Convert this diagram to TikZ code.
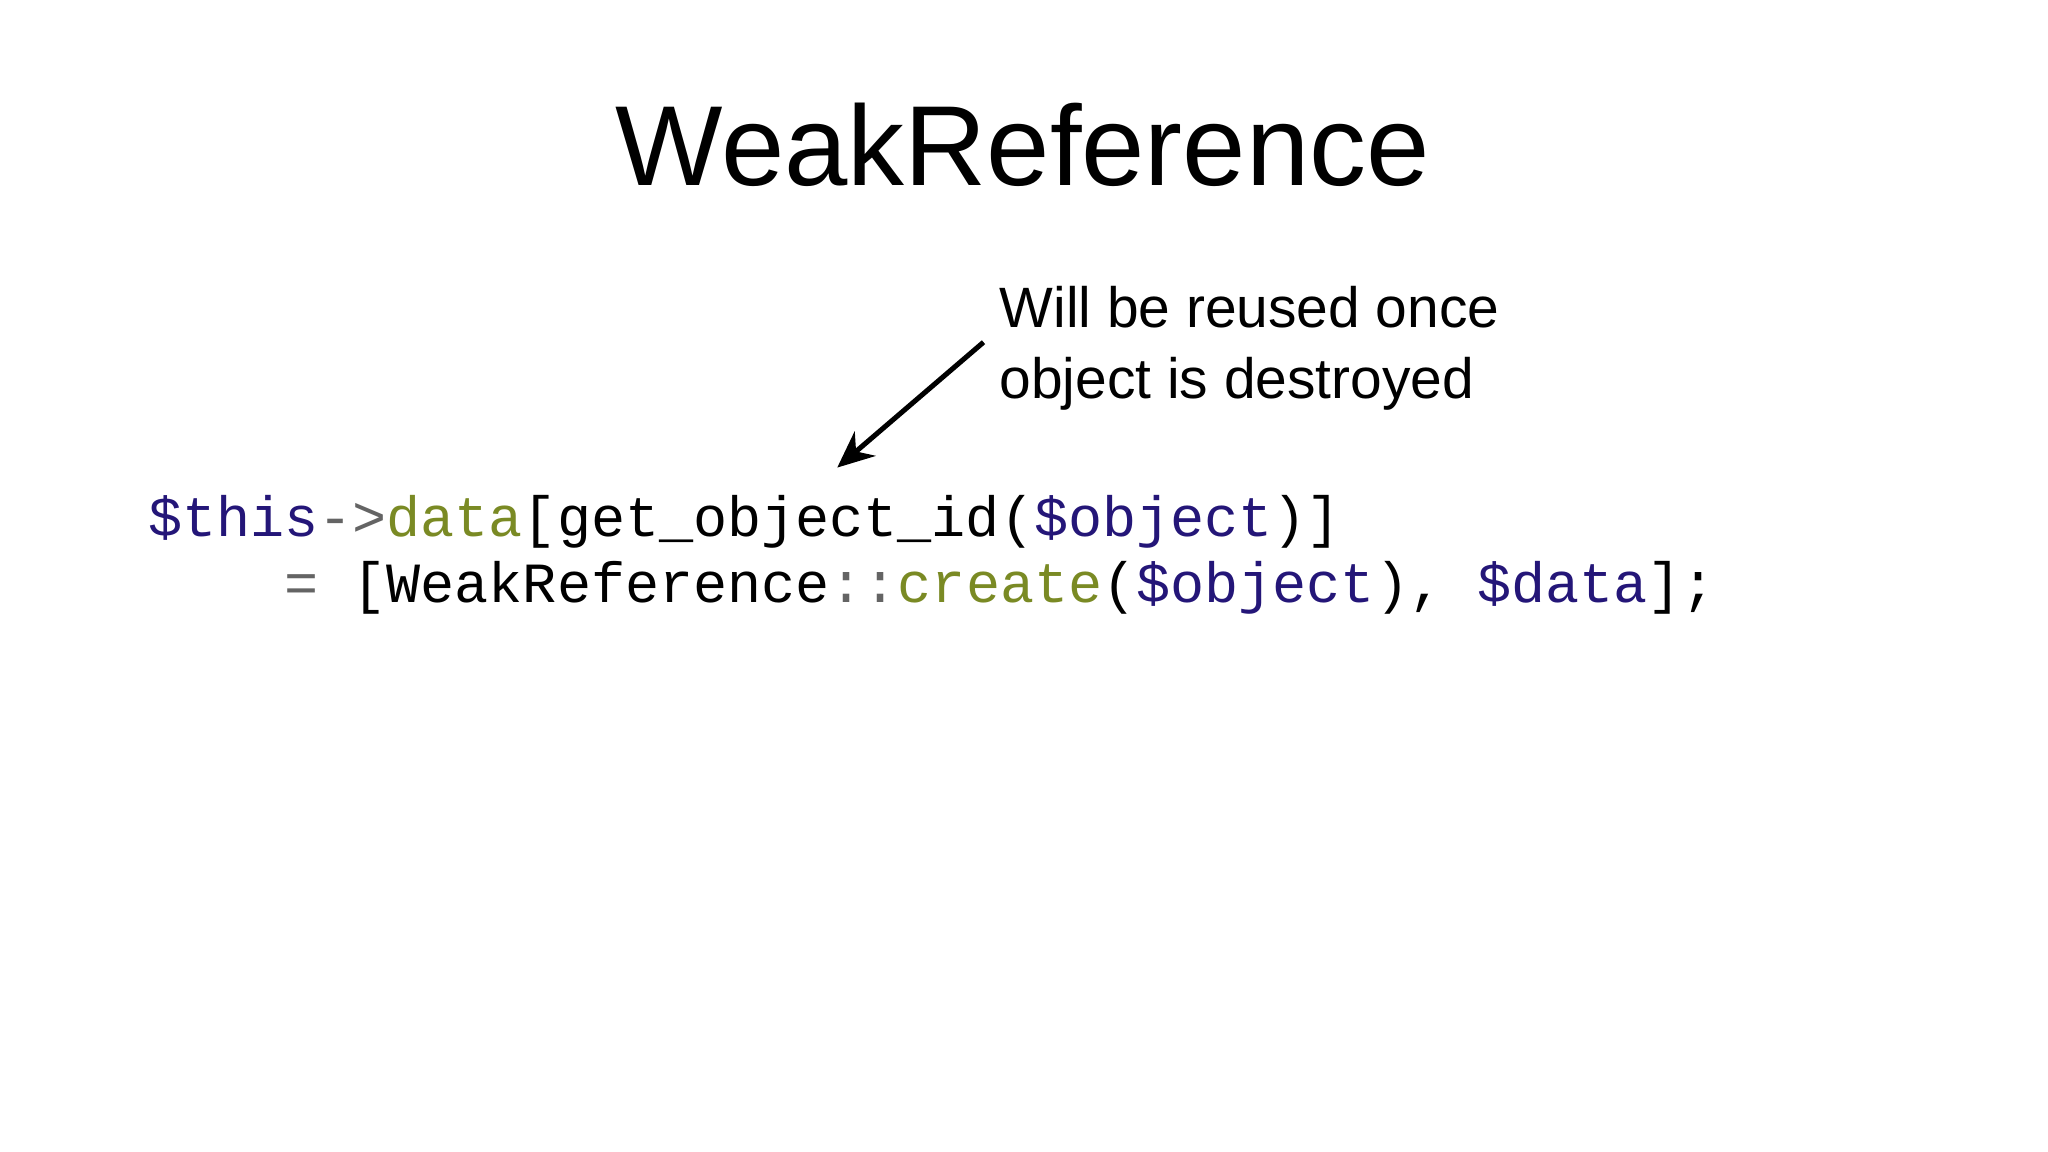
\documentclass[tikz,border=0pt]{standalone}
\usepackage{fontspec}
\setmainfont{Liberation Sans}
\setmonofont{Liberation Mono}
\usetikzlibrary{arrows.meta}
\definecolor{vblue}{RGB}{36,22,120}
\definecolor{volive}{RGB}{122,138,36}
\definecolor{vgray}{RGB}{100,100,100}
\newcommand{\cb}[1]{\textcolor{vblue}{#1}}
\newcommand{\co}[1]{\textcolor{volive}{#1}}
\newcommand{\cg}[1]{\textcolor{vgray}{#1}}
\tikzset{txt/.style={anchor=base west,inner sep=0pt},
code/.style={txt,font=\fontsize{24.75}{30}\selectfont\ttfamily}}
\begin{document}
\begin{tikzpicture}[x=0.02cm,y=-0.02cm]
\useasboundingbox[fill=white] (0,0) rectangle (1568,882);
\node[anchor=base,inner sep=0pt,font=\fontsize{49.6}{55}\selectfont] (title) at (783,142) {WeakReference};
\node[txt,font=\fontsize{24.8}{30}\selectfont] (note) at (765,251) {Will be reused once};
\node[txt,font=\fontsize{24.8}{30}\selectfont] (note2) at (765,305) {object is destroyed};
\node[code] (l1) at (113,411) {\cb{\$this}\cg{->}\co{data}[get\_object\_id(\cb{\$object})]};
\node[code] (l2) at (113,461) {\phantom{xxxx}\cg{=} [WeakReference\cg{::}\co{create}(\cb{\$object}), \cb{\$data}];};
\coordinate (a) at (753,262);
\coordinate (b) at (641,358);
\draw[line width=2.2pt,-{Stealth[length=16pt,width=14pt]}] (a) -- (b);
\end{tikzpicture}
\end{document}
